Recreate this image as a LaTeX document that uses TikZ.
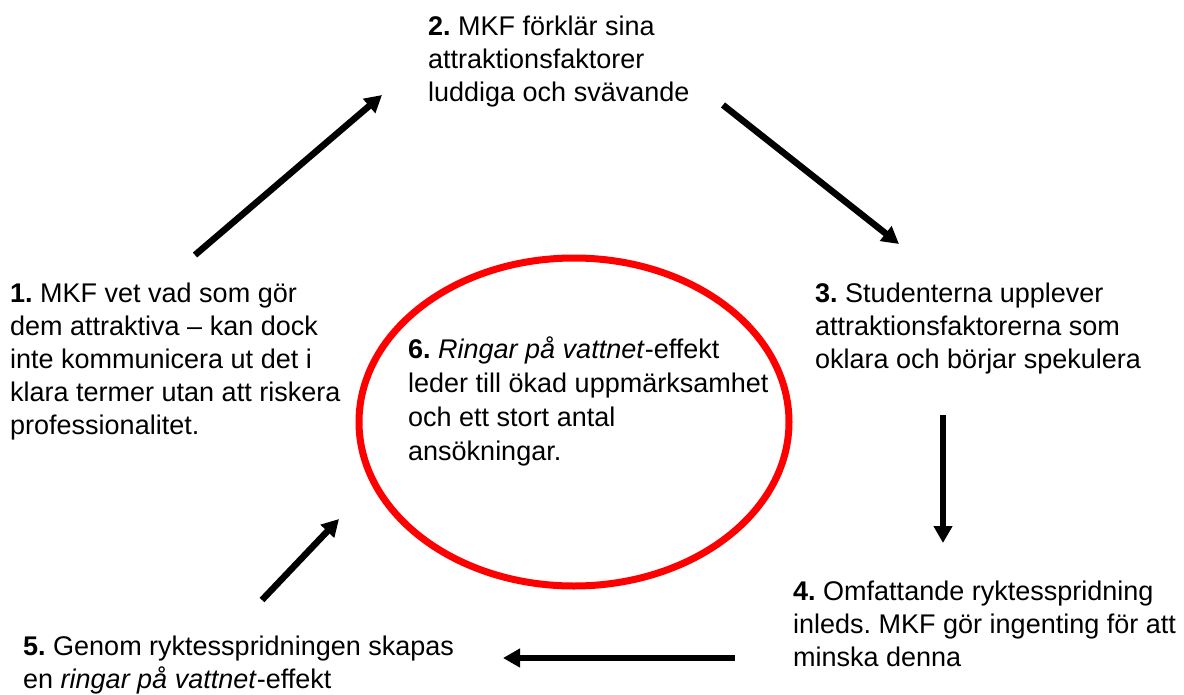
\documentclass[tikz,border=0pt]{standalone}
\usepackage{fontspec}
\setmainfont{Liberation Sans}
\frenchspacing
\usetikzlibrary{arrows.meta}
\tikzset{>={Triangle[length=17pt,width=18pt]}}
\tikzset{flow/.style={->, line width=6.5pt, black}}
\tikzset{stage/.style={anchor=base west, align=left, inner sep=0pt,
  font=\fontsize{27}{33}\selectfont}}

\begin{document}
\begin{tikzpicture}[x=1pt, y=-1pt]

    \useasboundingbox (0,0) rectangle (1184,694);

    % the ring in the middle
    \draw[red, line width=7pt] (574,422) ellipse (215 and 164);

    % texts, placed at the baseline of their last line
    \node[stage] (s1) at (10,434) {\textbf{1.} MKF vet vad som gör\\dem attraktiva -- kan dock\\inte kommunicera ut det i\\klara termer utan att riskera\\professionalitet.};
    \node[stage] (s2) at (428,101) {\textbf{2.} MKF förklär sina\\attraktionsfaktorer\\luddiga och svävande};
    \node[stage] (s3) at (815,368) {\textbf{3.} Studenterna upplever\\attraktionsfaktorerna som\\oklara och börjar spekulera};
    \node[stage] (s4) at (793,666) {\textbf{4.} Omfattande ryktesspridning\\inleds. MKF gör ingenting för att\\minska denna};
    \node[stage] (s5) at (23,688) {\textbf{5.} Genom ryktesspridningen skapas\\en \textit{ringar på vattnet}-effekt};
    \node[stage, font=\fontsize{27}{34}\selectfont] (s6) at (408,460) {\textbf{6.} \textit{Ringar på vattnet}-effekt\\leder till ökad uppmärksamhet\\och ett stort antal\\ansökningar.};

    % arrow ends
    \coordinate (a1) at (195,255);
    \coordinate (b1) at (382,95);
    \coordinate (a2) at (723,105);
    \coordinate (b2) at (899,244);
    \coordinate (a3) at (943,415);
    \coordinate (b3) at (943,543);
    \coordinate (a4) at (735,658);
    \coordinate (b4) at (503,658);
    \coordinate (a5) at (262,600);
    \coordinate (b5) at (339,519);

    \draw[flow] (a1) -- (b1);
    \draw[flow] (a2) -- (b2);
    \draw[flow] (a3) -- (b3);
    \draw[flow] (a4) -- (b4);
    \draw[flow] (a5) -- (b5);

\end{tikzpicture}
\end{document}
